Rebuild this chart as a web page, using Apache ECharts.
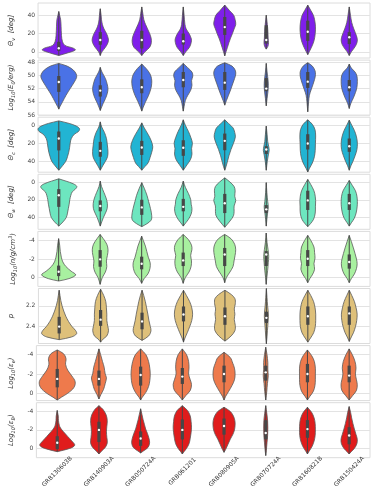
<!DOCTYPE html>
<html>
<head>
<meta charset="utf-8">
<script src="https://cdn.jsdelivr.net/npm/echarts@6/dist/echarts.min.js"></script>
<style>
  html, body { margin: 0; padding: 0; background: #fff; }
  #chart { width: 374px; height: 491px; }
</style>
</head>
<body>
<div id="chart"></div>
<script>
const grbs = ['GRB130603B', 'GRB140903A', 'GRB050724A', 'GRB061201',
              'GRB080905A', 'GRB070724A', 'GRB160821B', 'GRB150424A'];

// each violin: q = [q1, median, q3], p = [value, half width (fraction of half band)] from bottom tip to top tip
const thetaV = [
  {q: [1, 4, 11], p: [[-4, 0], [-1, 0.45], [2, 0.8], [4, 0.7], [7, 0.3], [11, 0.18], [18, 0.13], [28, 0.11], [35, 0.09], [40, 0.04], [44, 0]]},
  {q: [7.8, 13, 21.5], p: [[-4, 0], [0, 0.08], [5, 0.25], [10, 0.37], [14, 0.39], [20, 0.3], [25, 0.18], [30, 0.1], [35, 0.06], [40, 0.04], [47, 0]]},
  {q: [3.7, 13, 23], p: [[-4, 0], [0, 0.15], [5, 0.38], [10, 0.46], [15, 0.45], [20, 0.38], [25, 0.28], [30, 0.18], [35, 0.1], [42, 0.05], [49, 0]]},
  {q: [8, 11.5, 20], p: [[-4, 0], [0, 0.12], [5, 0.3], [10, 0.38], [14, 0.39], [20, 0.28], [25, 0.14], [30, 0.08], [40, 0.04], [49, 0]]},
  {q: [18.5, 27, 38], p: [[-4.4, 0], [0, 0.06], [5, 0.13], [10, 0.2], [15, 0.28], [20, 0.37], [25, 0.45], [30, 0.53], [35, 0.5], [40, 0.43], [45, 0.23], [51, 0]]},
  {q: [9, 13, 29], p: [[3, 0], [6, 0.08], [10, 0.11], [15, 0.09], [22, 0.08], [30, 0.05], [40, 0]]},
  {q: [12, 22, 34], p: [[-3, 0], [0, 0.07], [5, 0.18], [12, 0.3], [20, 0.36], [28, 0.37], [35, 0.33], [40, 0.27], [45, 0.15], [51, 0]]},
  {q: [8.5, 16, 21.5], p: [[-4, 0], [0, 0.1], [3, 0.2], [8, 0.34], [13, 0.39], [18, 0.34], [25, 0.22], [32, 0.12], [40, 0.06], [49, 0]]}
];
const logE0 = [
  {q: [50.1, 51, 52.5], p: [[48.2, 0], [48.6, 0.4], [49.2, 0.7], [49.8, 0.84], [50.3, 0.86], [51, 0.75], [52, 0.55], [53, 0.35], [54, 0.18], [54.7, 0.06], [55.1, 0]]},
  {q: [51.5, 52.3, 53.2], p: [[48.8, 0], [49.5, 0.08], [50.5, 0.25], [51.3, 0.33], [52, 0.37], [52.7, 0.34], [53.5, 0.25], [54.3, 0.13], [55.3, 0]]},
  {q: [50.6, 51.8, 52.7], p: [[48.3, 0], [49, 0.22], [49.8, 0.4], [50.5, 0.47], [51.2, 0.48], [52, 0.44], [53, 0.33], [54, 0.18], [54.8, 0.07], [55.4, 0]]},
  {q: [49.5, 50.7, 51.8], p: [[48.2, 0], [48.8, 0.2], [49.5, 0.42], [50.1, 0.46], [50.8, 0.4], [51.5, 0.42], [52.3, 0.35], [53, 0.22], [53.8, 0.1], [54.7, 0.04], [55.4, 0]]},
  {q: [49.5, 51.1, 52.2], p: [[48.1, 0], [48.6, 0.35], [49.2, 0.5], [49.8, 0.53], [50.5, 0.47], [51.3, 0.38], [52.2, 0.28], [53, 0.18], [53.8, 0.08], [54.5, 0]]},
  {q: [50.4, 52, 52.4], p: [[48.2, 0], [49.5, 0.04], [50.5, 0.08], [51.5, 0.1], [52.5, 0.08], [53.5, 0.04], [54.6, 0]]},
  {q: [49.5, 50.95, 51.9], p: [[48.1, 0], [48.6, 0.22], [49.3, 0.35], [49.9, 0.37], [50.6, 0.33], [51.4, 0.25], [52.2, 0.16], [53, 0.08], [54, 0.04], [55.5, 0]]},
  {q: [50.7, 51.8, 52.4], p: [[48.3, 0], [48.9, 0.1], [49.5, 0.28], [50.1, 0.37], [50.9, 0.39], [51.8, 0.37], [52.6, 0.3], [53.4, 0.2], [54.2, 0.08], [55, 0]]}
];
const thetaC = [
  {q: [7, 14.8, 28], p: [[-4.8, 0], [-2, 0.5], [1, 0.85], [4, 1.0], [7, 0.95], [10, 0.75], [15, 0.6], [20, 0.55], [25, 0.52], [30, 0.48], [35, 0.42], [40, 0.34], [45, 0.18], [50, 0]]},
  {q: [18.5, 28.5, 35], p: [[-3.7, 0], [2, 0.07], [8, 0.2], [15, 0.3], [22, 0.34], [29, 0.37], [35, 0.35], [40, 0.25], [45, 0.12], [50, 0]]},
  {q: [17.4, 24.8, 33], p: [[-2.6, 0], [3, 0.12], [10, 0.3], [17, 0.45], [24, 0.53], [30, 0.48], [36, 0.4], [42, 0.3], [46, 0.15], [50, 0]]},
  {q: [16.7, 25, 34], p: [[-6, 0], [0, 0.1], [7, 0.25], [14, 0.37], [20, 0.44], [26, 0.4], [32, 0.42], [38, 0.35], [44, 0.18], [50, 0]]},
  {q: [9.3, 17.4, 27.8], p: [[-6, 0], [-2, 0.18], [3, 0.4], [8, 0.48], [13, 0.51], [20, 0.42], [27, 0.3], [34, 0.2], [41, 0.12], [46, 0.06], [50, 0]]},
  {q: [23.3, 27, 32], p: [[1, 0], [10, 0.04], [18, 0.07], [24, 0.12], [28, 0.14], [33, 0.1], [40, 0.05], [50, 0]]},
  {q: [10, 20.4, 27], p: [[-6, 0], [-1, 0.22], [5, 0.35], [12, 0.38], [20, 0.37], [28, 0.36], [35, 0.32], [42, 0.22], [48, 0.08], [52, 0]]},
  {q: [14.8, 23.3, 29.6], p: [[-5.6, 0], [0, 0.12], [6, 0.25], [13, 0.35], [20, 0.39], [27, 0.37], [34, 0.28], [40, 0.18], [45, 0.08], [50, 0]]}
];
const thetaW = [
  {q: [8, 15, 28], p: [[-3.6, 0], [-1, 0.35], [2, 0.7], [5, 0.87], [8, 0.8], [11, 0.65], [15, 0.58], [20, 0.53], [25, 0.5], [30, 0.46], [35, 0.42], [40, 0.36], [45, 0.2], [49.7, 0]]},
  {q: [20.7, 27, 33], p: [[-1, 0], [5, 0.06], [12, 0.18], [18, 0.28], [24, 0.34], [30, 0.33], [35, 0.25], [40, 0.15], [45, 0.07], [49.7, 0]]},
  {q: [20, 28.6, 37], p: [[0.7, 0], [7, 0.12], [15, 0.25], [22, 0.33], [30, 0.42], [38, 0.48], [43, 0.45], [47, 0.25], [50.3, 0]]},
  {q: [19, 28, 33], p: [[-1, 0], [6, 0.1], [13, 0.25], [20, 0.36], [25, 0.38], [30, 0.42], [36, 0.38], [42, 0.25], [46, 0.12], [49.7, 0]]},
  {q: [13.4, 24, 35], p: [[-4.7, 0], [0, 0.25], [5, 0.45], [10, 0.5], [16, 0.48], [21, 0.53], [27, 0.45], [33, 0.45], [38, 0.42], [44, 0.25], [51, 0]]},
  {q: [26, 30.8, 35], p: [[0.7, 0], [12, 0.03], [22, 0.07], [28, 0.1], [34, 0.07], [42, 0.03], [49.7, 0]]},
  {q: [9.8, 20.7, 31.5], p: [[-2.9, 0], [3, 0.15], [10, 0.3], [16, 0.36], [21, 0.38], [28, 0.37], [35, 0.36], [42, 0.28], [47, 0.13], [50.3, 0]]},
  {q: [13.4, 24, 31.5], p: [[-1.8, 0], [4, 0.15], [10, 0.3], [16, 0.37], [22, 0.39], [28, 0.38], [35, 0.33], [41, 0.24], [46, 0.1], [49.7, 0]]}
];
const logN = [
  {q: [-1.3, -0.64, -0.17], p: [[-4.2, 0], [-3.5, 0.05], [-2.8, 0.08], [-2.2, 0.13], [-1.7, 0.2], [-1.2, 0.35], [-0.7, 0.6], [-0.3, 0.82], [0.1, 0.5], [0.36, 0]]},
  {q: [-2.97, -1.97, -1.18], p: [[-4.65, 0], [-4.2, 0.15], [-3.6, 0.32], [-3, 0.38], [-2.4, 0.35], [-1.8, 0.3], [-1.2, 0.32], [-0.6, 0.25], [0, 0.1], [0.72, 0]]},
  {q: [-2.26, -1.5, -0.9], p: [[-4.47, 0], [-4, 0.08], [-3.4, 0.18], [-2.8, 0.25], [-2.2, 0.32], [-1.6, 0.41], [-1, 0.4], [-0.4, 0.3], [0.1, 0.12], [0.61, 0]]},
  {q: [-2.7, -1.86, -1.25], p: [[-4.65, 0], [-4.1, 0.25], [-3.5, 0.4], [-3, 0.42], [-2.4, 0.36], [-1.8, 0.4], [-1.2, 0.38], [-0.6, 0.28], [0, 0.1], [0.61, 0]]},
  {q: [-3.2, -2.5, -1.25], p: [[-4.65, 0], [-4.2, 0.3], [-3.6, 0.48], [-3, 0.53], [-2.4, 0.5], [-1.8, 0.45], [-1.2, 0.4], [-0.6, 0.25], [0, 0.08], [0.54, 0]]},
  {q: [-2.86, -2.5, -1.25], p: [[-4.8, 0], [-3.8, 0.04], [-3, 0.09], [-2.3, 0.12], [-1.6, 0.1], [-0.8, 0.07], [0, 0.03], [0.72, 0]]},
  {q: [-2.97, -2.04, -1.25], p: [[-4.55, 0], [-4, 0.15], [-3.3, 0.3], [-2.7, 0.33], [-2.1, 0.35], [-1.5, 0.3], [-0.9, 0.33], [-0.3, 0.22], [0.1, 0.1], [0.54, 0]]},
  {q: [-2.5, -1.68, -0.97], p: [[-4.55, 0], [-3.9, 0.1], [-3.2, 0.2], [-2.6, 0.28], [-2, 0.35], [-1.5, 0.38], [-1, 0.35], [-0.4, 0.25], [0.1, 0.1], [0.54, 0]]}
];
const pIndex = [
  {q: [2.306, 2.4, 2.466], p: [[2.05, 0], [2.1, 0.04], [2.15, 0.08], [2.2, 0.14], [2.25, 0.22], [2.3, 0.32], [2.35, 0.45], [2.4, 0.62], [2.44, 0.8], [2.47, 0.84], [2.5, 0.6], [2.526, 0]]},
  {q: [2.24, 2.333, 2.393], p: [[2.04, 0], [2.1, 0.15], [2.16, 0.25], [2.22, 0.28], [2.28, 0.3], [2.34, 0.3], [2.4, 0.35], [2.44, 0.38], [2.49, 0.3], [2.52, 0.12], [2.55, 0]]},
  {q: [2.266, 2.35, 2.426], p: [[2.05, 0], [2.1, 0.08], [2.16, 0.16], [2.22, 0.22], [2.28, 0.28], [2.34, 0.33], [2.4, 0.4], [2.44, 0.43], [2.49, 0.32], [2.533, 0]]},
  {q: [2.206, 2.283, 2.35], p: [[2.05, 0], [2.1, 0.14], [2.16, 0.3], [2.22, 0.4], [2.28, 0.44], [2.34, 0.4], [2.4, 0.3], [2.46, 0.18], [2.51, 0.07], [2.55, 0]]},
  {q: [2.216, 2.3, 2.383], p: [[2.05, 0], [2.09, 0.3], [2.13, 0.48], [2.18, 0.5], [2.23, 0.45], [2.28, 0.48], [2.33, 0.45], [2.39, 0.5], [2.44, 0.48], [2.49, 0.3], [2.54, 0]]},
  {q: [2.256, 2.316, 2.366], p: [[2.033, 0], [2.12, 0.03], [2.2, 0.06], [2.26, 0.09], [2.3, 0.1], [2.36, 0.08], [2.44, 0.05], [2.5, 0.03], [2.566, 0]]},
  {q: [2.206, 2.3, 2.383], p: [[2.05, 0], [2.1, 0.14], [2.16, 0.28], [2.22, 0.35], [2.28, 0.38], [2.34, 0.38], [2.4, 0.36], [2.46, 0.28], [2.51, 0.13], [2.55, 0]]},
  {q: [2.206, 2.273, 2.383], p: [[2.05, 0], [2.1, 0.12], [2.16, 0.25], [2.22, 0.33], [2.28, 0.38], [2.34, 0.36], [2.4, 0.3], [2.46, 0.2], [2.5, 0.1], [2.543, 0]]}
];
const logEe = [
  {q: [-2.52, -1.49, -0.62], p: [[-4.48, 0], [-4.1, 0.3], [-3.6, 0.42], [-3, 0.4], [-2.4, 0.5], [-1.8, 0.7], [-1.2, 0.86], [-0.6, 0.8], [0, 0.5], [0.4, 0.2], [0.69, 0]]},
  {q: [-2.35, -1.49, -0.8], p: [[-4.59, 0], [-4, 0.08], [-3.3, 0.17], [-2.7, 0.25], [-2, 0.3], [-1.6, 0.36], [-1, 0.3], [-0.4, 0.22], [0.1, 0.1], [0.58, 0]]},
  {q: [-2.76, -1.9, -0.8], p: [[-4.59, 0], [-4, 0.25], [-3.3, 0.38], [-2.6, 0.44], [-2, 0.46], [-1.3, 0.44], [-0.7, 0.38], [-0.1, 0.25], [0.4, 0.08], [0.69, 0]]},
  {q: [-2.62, -1.73, -0.97], p: [[-4.59, 0], [-4, 0.2], [-3.3, 0.3], [-2.6, 0.32], [-2, 0.3], [-1.4, 0.38], [-0.9, 0.44], [-0.3, 0.38], [0.2, 0.18], [0.69, 0]]},
  {q: [-2.86, -2, -1.14], p: [[-4.24, 0], [-3.7, 0.3], [-3.1, 0.42], [-2.6, 0.5], [-2, 0.53], [-1.4, 0.5], [-0.8, 0.38], [-0.2, 0.22], [0.3, 0.08], [0.69, 0]]},
  {q: [-2.86, -2.17, -1.31], p: [[-4.76, 0], [-4, 0.06], [-3.2, 0.1], [-2.5, 0.1], [-1.8, 0.12], [-1, 0.08], [-0.2, 0.05], [0.69, 0]]},
  {q: [-3.04, -2, -1.14], p: [[-4.48, 0], [-3.9, 0.2], [-3.3, 0.33], [-2.6, 0.38], [-2, 0.38], [-1.4, 0.38], [-0.8, 0.36], [-0.2, 0.28], [0.3, 0.12], [0.69, 0]]},
  {q: [-2.86, -1.83, -1.14], p: [[-4.59, 0], [-4, 0.15], [-3.3, 0.28], [-2.6, 0.33], [-2, 0.3], [-1.4, 0.35], [-0.9, 0.39], [-0.3, 0.35], [0.2, 0.18], [0.69, 0]]}
];
const logEb = [
  {q: [-1.32, -0.62, 0.07], p: [[-4.1, 0], [-3.5, 0.05], [-3, 0.06], [-2.5, 0.1], [-2.2, 0.16], [-1.8, 0.3], [-1.3, 0.5], [-0.8, 0.7], [-0.35, 0.84], [0, 0.6], [0.35, 0]]},
  {q: [-2.88, -2, -0.69], p: [[-4.62, 0], [-4.2, 0.2], [-3.6, 0.35], [-3, 0.4], [-2.4, 0.38], [-1.8, 0.36], [-1.2, 0.38], [-0.6, 0.4], [-0.1, 0.3], [0.3, 0.12], [0.6, 0]]},
  {q: [-1.84, -1.07, -0.28], p: [[-4.28, 0], [-3.7, 0.06], [-3.1, 0.12], [-2.6, 0.18], [-2.1, 0.24], [-1.6, 0.33], [-1.1, 0.4], [-0.6, 0.43], [-0.1, 0.35], [0.25, 0.15], [0.49, 0]]},
  {q: [-3.13, -2, -0.97], p: [[-4.62, 0], [-4.1, 0.25], [-3.5, 0.38], [-2.9, 0.42], [-2.3, 0.44], [-1.7, 0.42], [-1.1, 0.38], [-0.5, 0.32], [0, 0.2], [0.35, 0.08], [0.6, 0]]},
  {q: [-3.23, -2.43, -1.49], p: [[-4.45, 0], [-4, 0.3], [-3.5, 0.45], [-3, 0.52], [-2.5, 0.53], [-2, 0.5], [-1.5, 0.42], [-1, 0.3], [-0.4, 0.18], [0.1, 0.08], [0.42, 0]]},
  {q: [-3.06, -1.67, -0.97], p: [[-4.62, 0], [-3.8, 0.05], [-3, 0.09], [-2.2, 0.1], [-1.4, 0.09], [-0.6, 0.06], [0.2, 0.03], [0.77, 0]]},
  {q: [-3.06, -2.09, -1.15], p: [[-4.45, 0], [-3.9, 0.2], [-3.3, 0.32], [-2.7, 0.37], [-2, 0.38], [-1.4, 0.37], [-0.8, 0.32], [-0.2, 0.22], [0.3, 0.08], [0.6, 0]]},
  {q: [-2.3, -1.39, -0.45], p: [[-4.52, 0], [-3.9, 0.07], [-3.3, 0.12], [-2.7, 0.18], [-2.1, 0.25], [-1.5, 0.33], [-1, 0.39], [-0.5, 0.37], [0, 0.25], [0.35, 0.1], [0.6, 0]]}
];

const tickVals = [[0, 20, 40], [48, 50, 52, 54, 56], [0, 20, 40], [0, 20, 40],
                  [-4, -2, 0], [2.2, 2.4], [-4, -2, 0], [-4, -2, 0]];

const rows = [
  {data: thetaV, color: '#7f1fea', name: '{i|Θ}{s|v}{i|  [deg]}', min: -6.7, max: 53.3, inverse: false},
  {data: logE0, color: '#4a72e6', name: '{i|Log}{s|10}{i|(E}{s|0}{i|/erg)}', min: 47.7, max: 56, inverse: true},
  {data: thetaC, color: '#22b4d3', name: '{i|Θ}{s|c}{i|  [deg]}', min: -8.9, max: 52.2, inverse: true},
  {data: thetaW, color: '#6de6bf', name: '{i|Θ}{s|w}{i|  [deg]}', min: -8.7, max: 53.3, inverse: true},
  {data: logN, color: '#a8f0a0', name: '{i|Log}{s|10}{i|(n/g/cm}{p|3}{i|)}', min: -4.98, max: 0.94, inverse: true},
  {data: pIndex, color: '#dec07a', name: '{i|p}', min: 2.033, max: 2.563, inverse: true},
  {data: logEe, color: '#ee7a4c', name: '{i|Log}{s|10}{i|(ε}{s|e}{i|)}', min: -4.93, max: 0.75, inverse: true},
  {data: logEb, color: '#e01c1c', name: '{i|Log}{s|10}{i|(ε}{s|B}{i|)}', min: -4.94, max: 1.0, inverse: true}
];

const font = 'DejaVu Sans';
const nameRich = {
  i: {fontSize: 7, fontStyle: 'italic', fontFamily: font, color: '#333', lineHeight: 10, verticalAlign: 'middle'},
  s: {fontSize: 5, fontStyle: 'italic', fontFamily: font, color: '#333', lineHeight: 6, verticalAlign: 'bottom'},
  p: {fontSize: 5, fontStyle: 'italic', fontFamily: font, color: '#333', lineHeight: 6, verticalAlign: 'top'}
};

function violin(list, color) {
  return function (params, api) {
    const d = list[params.dataIndex];
    const c = params.dataIndex;
    const half = api.size([1, 0])[0] / 2;
    const left = [], right = [];
    d.p.forEach(function (pt) {
      const xy = api.coord([c, pt[0]]);
      left.push([xy[0] - pt[1] * half, xy[1]]);
      right.unshift([xy[0] + pt[1] * half, xy[1]]);
    });
    const lo = api.coord([c, d.p[0][0]]);
    const hi = api.coord([c, d.p[d.p.length - 1][0]]);
    const q1 = api.coord([c, d.q[0]]);
    const md = api.coord([c, d.q[1]]);
    const q3 = api.coord([c, d.q[2]]);
    return {
      type: 'group',
      children: [
        {type: 'polygon', shape: {points: left.concat(right), smooth: 0.35},
         style: {fill: color, stroke: '#5a5a5a', lineWidth: 0.8}},
        {type: 'line', shape: {x1: lo[0], y1: lo[1], x2: hi[0], y2: hi[1]},
         style: {stroke: '#474747', lineWidth: 1}},
        {type: 'rect', shape: {x: q1[0] - 1.6, y: Math.min(q1[1], q3[1]), width: 3.2, height: Math.abs(q3[1] - q1[1])},
         style: {fill: '#474747'}},
        {type: 'circle', shape: {cx: md[0], cy: md[1], r: 1.2}, style: {fill: '#fff'}}
      ]
    };
  };
}

const grids = [], xAxes = [], yAxes = [], series = [];
rows.forEach(function (r, i) {
  grids.push({left: 20, right: 4, top: 3 + i * 57.1, height: 55, show: true,
              borderColor: '#dcdcdc', borderWidth: 1, backgroundColor: '#fff'});
  const last = i === rows.length - 1;
  xAxes.push({
    type: 'category', gridIndex: i, data: grbs,
    axisLine: {show: false}, axisTick: {show: false}, splitLine: {show: false},
    axisLabel: last ? {show: true, rotate: 45, fontSize: 6, fontFamily: font, color: '#333',
                       align: 'center', verticalAlign: 'middle', margin: 14, interval: 0}
                    : {show: false}
  });
  yAxes.push({
    type: 'value', gridIndex: i, min: r.min, max: r.max, inverse: r.inverse,
    axisLine: {show: false},
    axisTick: {show: false, customValues: tickVals[i]},
    axisLabel: {customValues: tickVals[i], fontSize: 6, fontFamily: font, color: '#444', margin: 3},
    splitLine: {show: true, lineStyle: {color: '#e3e3e3', width: 1}},
    name: r.name, nameLocation: 'middle', nameGap: 10, nameRotate: 90,
    nameTextStyle: {rich: nameRich}
  });
  series.push({
    type: 'custom', xAxisIndex: i, yAxisIndex: i,
    data: r.data.map(function (d, k) { return [k, d.q[1]]; }),
    encode: {x: 0, y: 1},
    renderItem: violin(r.data, r.color),
    silent: true
  });
});

const chart = echarts.init(document.getElementById('chart'), null, {renderer: 'canvas'});
chart.setOption({
  animation: false,
  backgroundColor: '#fff',
  textStyle: {fontFamily: font},
  grid: grids,
  xAxis: xAxes,
  yAxis: yAxes,
  series: series
});
</script>
</body>
</html>
